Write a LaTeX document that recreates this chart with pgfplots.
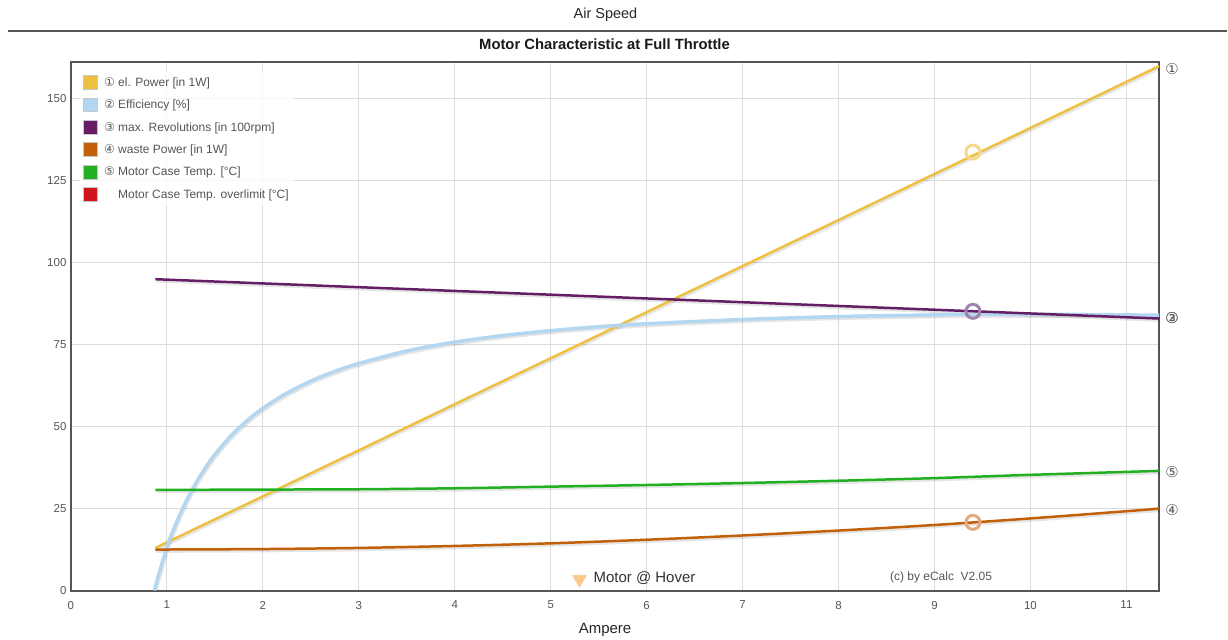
\documentclass[border=0pt]{standalone}
\usepackage{pgfplots}
\pgfplotsset{compat=1.18}
\usepackage{fontspec}
\setmainfont{Liberation Sans}
\newfontfamily\dejavu{DejaVu Sans}
\definecolor{cPow}{HTML}{EEC041}
\definecolor{cPowL}{HTML}{F6D88A}
\definecolor{cEff}{HTML}{B3D6F1}
\definecolor{cRev}{HTML}{651E66}
\definecolor{cRevL}{HTML}{A184AE}
\definecolor{cWaste}{HTML}{C2600A}
\definecolor{cWasteL}{HTML}{E1AA7E}
\definecolor{cTemp}{HTML}{22B022}
\definecolor{cOver}{HTML}{D0141C}
\definecolor{cAxis}{HTML}{555555}
\definecolor{cGrid}{HTML}{DCDCDC}
\definecolor{cTxt}{HTML}{555555}
\definecolor{cHover}{HTML}{FDC68C}
\pgfplotsset{sq/.style={legend image code/.code={\draw[draw=black!22,line width=1pt,fill=#1,fill opacity=1,draw opacity=1] (0pt,-7pt) rectangle (14pt,7pt);}}}
\newcommand{\cn}[1]{{\dejavu #1}}
\pgfplotstableread{
x y
0.87 0
0.9 3.3
0.95 8.4
1.0 13.3
1.05 17.2
1.1 20.8
1.15 24.1
1.2 27.2
1.3 32.7
1.4 37.4
1.5 41.5
1.6 45.0
1.7 48.2
1.8 50.9
1.9 53.4
2.0 55.6
2.2 59.4
2.4 62.5
2.6 65.2
2.8 67.4
3.0 69.3
3.5 73.1
4.0 75.8
4.5 77.8
5.0 79.3
5.5 80.5
6.0 81.4
7.0 82.7
8.0 83.6
9.0 84.1
9.4 84.3
10.0 84.3
10.7 84.2
11.34 84.0
}\eff
\pgfplotstableread{
x y
0.88 12.5
2 12.65
3 13.0
4 13.6
5 14.4
6 15.5
7 16.8
8 18.3
9 20.0
10 22.0
11 24.2
11.34 25.0
}\waste
\pgfplotstableread{
x y
0.88 30.7
2 30.8
3 30.9
4 31.2
5 31.7
6 32.2
7 32.8
8 33.5
9 34.3
10 35.3
11.34 36.5
}\temp
\begin{document}
\begin{tikzpicture}[x=1pt,y=1pt]
\path (0,0) rectangle (1228,639);
\node[font=\fontsize{14.5}{16}\selectfont, text=black!85] at (606,624) {Air Speed};
\draw[line width=2pt, color=cAxis] (8,608) -- (1228,608);
\node[font=\bfseries\fontsize{14.8}{16}\selectfont, text=black!90] at (605,595) {Motor Characteristic at Full Throttle};
\begin{axis}[
  at={(71pt,48pt)}, anchor=south west,
  scale only axis, width=1089pt, height=529pt,
  xmin=0, xmax=11.34, ymin=0, ymax=161.3,
  xtick={0,1,...,11}, ytick={0,25,50,75,100,125,150},
  grid=major, major grid style={cGrid, line width=1pt},
  axis line style={cAxis, line width=2pt},
  tick style={draw=none},
  ticklabel style={font=\fontsize{11.5}{13}\selectfont, text=cTxt},
  xticklabel style={yshift=-7pt},
  yticklabel style={xshift=-1pt},
  /pgf/number format/assume math mode=true,
  xlabel={Ampere}, xlabel style={font=\fontsize{15}{17}\selectfont, text=black!85, xshift=-10pt, yshift=-7pt},
  clip=false,
  legend cell align=left,
  legend style={at={(0.0083,0.983)}, anchor=north west, draw=none, fill=white, fill opacity=0.75, text opacity=1,
    font=\fontsize{12}{13}\selectfont, text=cTxt, row sep=7.4pt, inner xsep=3pt, inner ysep=4pt},
]
% shadows
\addplot[forget plot, black, opacity=0.10, line width=3pt, yshift=-1.8pt, xshift=1pt] coordinates {(0.88,13) (11.34,160)};
\addplot[forget plot, black, opacity=0.10, line width=3.5pt, smooth, yshift=-1.8pt, xshift=1pt] table {\eff};
\addplot[forget plot, black, opacity=0.10, line width=3pt, yshift=-1.8pt, xshift=1pt] coordinates {(0.88,95) (11.34,83)};
\addplot[forget plot, black, opacity=0.10, line width=3pt, smooth, yshift=-1.8pt, xshift=1pt] table {\waste};
\addplot[forget plot, black, opacity=0.10, line width=3pt, smooth, yshift=-1.8pt, xshift=1pt] table {\temp};
% series
\addplot[cPow, line width=2.5pt, sq=cPow] coordinates {(0.88,13) (11.34,160)};
\addlegendentry{\hspace{4pt}\cn{①} el. Power [in 1W]}
\addplot[cEff, line width=3.5pt, smooth, sq=cEff] table {\eff};
\addlegendentry{\hspace{4pt}\cn{②} Efficiency [\%]}
\addplot[cRev, line width=2.5pt, sq=cRev] coordinates {(0.88,95) (11.34,83)};
\addlegendentry{\hspace{4pt}\cn{③} max. Revolutions [in 100rpm]}
\addplot[cWaste, line width=2.5pt, smooth, sq=cWaste] table {\waste};
\addlegendentry{\hspace{4pt}\cn{④} waste Power [in 1W]}
\addplot[cTemp, line width=2.5pt, smooth, sq=cTemp] table {\temp};
\addlegendentry{\hspace{4pt}\cn{⑤} Motor Case Temp. [°C]}
\addlegendimage{sq=cOver}
\addlegendentry{\hspace{4pt}\phantom{\cn{⑤}} Motor Case Temp. overlimit [°C]}
% operating point markers
\addplot[forget plot, only marks, mark=o, mark size=7pt, cPowL, line width=3pt] coordinates {(9.4,133.8)};
\addplot[forget plot, only marks, mark=o, mark size=7pt, cRevL, line width=3pt] coordinates {(9.4,85.2)};
\addplot[forget plot, only marks, mark=o, mark size=7pt, cWasteL, line width=3pt] coordinates {(9.4,20.8)};
% hover marker
\addplot[forget plot, only marks, mark=triangle*, mark size=8pt, cHover, mark options={rotate=180, draw=none, fill=cHover}] coordinates {(5.3,3.4)};
\node[anchor=west, font=\fontsize{15}{17}\selectfont, text=black!80] at (axis cs:5.41,3.7) {Motor @ Hover};
\node[anchor=west, font=\fontsize{12}{14}\selectfont, text=cTxt] at (axis cs:8.5,4.0) {(c) by eCalc\ \ V2.05};
% right labels
\node[anchor=west, inner sep=0pt, xshift=6pt, font=\dejavu\fontsize{15}{15}\selectfont, text=black!65] at (axis cs:11.34,159) {①};
\node[anchor=west, inner sep=0pt, xshift=6pt, font=\dejavu\fontsize{15}{15}\selectfont, text=black!65] at (axis cs:11.34,83.2) {②};
\node[anchor=west, inner sep=0pt, xshift=6pt, font=\dejavu\fontsize{15}{15}\selectfont, text=black!65] at (axis cs:11.34,83.2) {③};
\node[anchor=west, inner sep=0pt, xshift=6pt, font=\dejavu\fontsize{15}{15}\selectfont, text=black!65] at (axis cs:11.34,36.2) {⑤};
\node[anchor=west, inner sep=0pt, xshift=6pt, font=\dejavu\fontsize{15}{15}\selectfont, text=black!65] at (axis cs:11.34,24.6) {④};
\end{axis}
\end{tikzpicture}
\end{document}
